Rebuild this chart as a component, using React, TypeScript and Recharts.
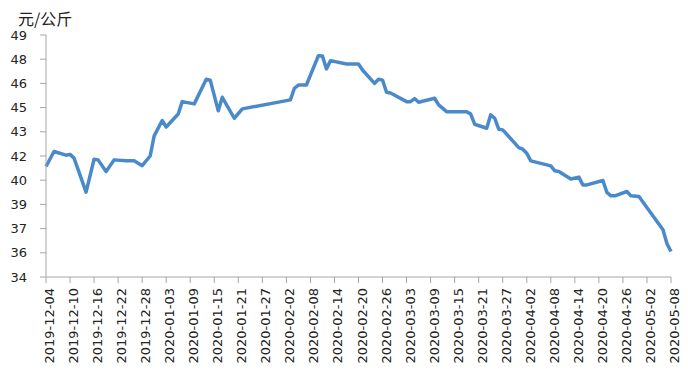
// 价格走势 — 元/公斤, 2019-12-04 ~ 2020-05-08
import { LineChart, Line, XAxis, YAxis } from 'recharts';

// 数据点 (日期, 价格)
const dates = [
  '2019-12-04', '2019-12-06', '2019-12-09', '2019-12-10', '2019-12-11', '2019-12-14',
  '2019-12-16', '2019-12-17', '2019-12-19', '2019-12-21', '2019-12-24', '2019-12-26',
  '2019-12-28', '2019-12-30', '2019-12-31', '2020-01-02', '2020-01-03', '2020-01-06',
  '2020-01-07', '2020-01-10', '2020-01-13', '2020-01-14', '2020-01-16', '2020-01-17',
  '2020-01-20', '2020-01-22', '2020-02-03', '2020-02-04', '2020-02-05', '2020-02-07',
  '2020-02-10', '2020-02-11', '2020-02-12', '2020-02-13', '2020-02-17', '2020-02-20',
  '2020-02-21', '2020-02-24', '2020-02-25', '2020-02-26', '2020-02-27', '2020-02-28',
  '2020-03-03', '2020-03-04', '2020-03-05', '2020-03-06', '2020-03-10', '2020-03-11',
  '2020-03-13', '2020-03-18', '2020-03-19', '2020-03-20', '2020-03-23', '2020-03-24',
  '2020-03-25', '2020-03-26', '2020-03-27', '2020-03-31', '2020-04-01', '2020-04-02',
  '2020-04-03', '2020-04-08', '2020-04-09', '2020-04-10', '2020-04-13', '2020-04-15',
  '2020-04-16', '2020-04-17', '2020-04-21', '2020-04-22', '2020-04-23', '2020-04-24',
  '2020-04-27', '2020-04-28', '2020-04-30', '2020-05-06', '2020-05-07', '2020-05-08',
];

const prices = [
  40.85, 41.78, 41.55, 41.6, 41.37, 39.26,
  41.3, 41.26, 40.54, 41.26, 41.2, 41.2,
  40.9, 41.5, 42.75, 43.7, 43.3, 44.1,
  44.87, 44.73, 46.26, 46.2, 44.3, 45.14,
  43.84, 44.42, 44.98, 45.7, 45.9, 45.9,
  47.72, 47.7, 46.9, 47.41, 47.2, 47.2,
  46.83, 46.0, 46.26, 46.2, 45.45, 45.4,
  44.87, 44.87, 45.06, 44.83, 45.08, 44.67,
  44.25, 44.25, 44.1, 43.47, 43.22, 44.05,
  43.84, 43.16, 43.12, 42.02, 41.92, 41.67,
  41.2, 40.89, 40.58, 40.54, 40.07, 40.19,
  39.71, 39.71, 39.98, 39.24, 39.03, 39.03,
  39.3, 39.03, 38.99, 36.93, 36.06, 35.58,
];

// x轴刻度 (每6天)
const xTickDates = [
  '2019-12-04', '2019-12-10', '2019-12-16', '2019-12-22', '2019-12-28', '2020-01-03',
  '2020-01-09', '2020-01-15', '2020-01-21', '2020-01-27', '2020-02-02', '2020-02-08',
  '2020-02-14', '2020-02-20', '2020-02-26', '2020-03-03', '2020-03-09', '2020-03-15',
  '2020-03-21', '2020-03-27', '2020-04-02', '2020-04-08', '2020-04-14', '2020-04-20',
  '2020-04-26', '2020-05-02', '2020-05-08',
];

// y轴刻度
const yTicks = [34, 35.5, 37, 38.5, 40, 41.5, 43, 44.5, 46, 47.5, 49];

const DAY = 86400000;
const START = Date.UTC(2019, 11, 4);
const toDay = (s: string) => {
  const [y, m, d] = s.split('-').map(Number);
  return Math.round((Date.UTC(y, m - 1, d) - START) / DAY);
};
const fromDay = (n: number) => new Date(START + n * DAY).toISOString().slice(0, 10);

const data = dates.map((d, i) => ({ day: toDay(d), price: prices[i] }));
const xTicks = xTickDates.map(toDay);

const AXIS_COLOR = '#a6a6a6';
const LINE_COLOR = '#4a8acb';
const FONT = '"DejaVu Sans", sans-serif';

// eslint-disable-next-line @typescript-eslint/no-explicit-any
function DateTick({ x, y, payload }: any) {
  return (
    <g transform={`translate(${x},${y})`}>
      <text
        transform="rotate(-90)"
        textAnchor="end"
        dy={8}
        fontSize={13}
        fontFamily={FONT}
        fill="#222"
      >
        {fromDay(payload.value)}
      </text>
    </g>
  );
}

export default function App() {
  return (
    <div
      style={{
        position: 'absolute',
        left: 0,
        top: 0,
        width: 688,
        height: 375,
        background: '#fff',
        fontFamily: FONT,
      }}
    >
      <div
        style={{
          position: 'absolute',
          left: 18,
          top: 10,
          fontSize: 16,
          lineHeight: '16px',
          color: '#222',
          fontFamily: '"Noto Sans CJK SC", sans-serif',
        }}
      >
        元/公斤
      </div>
      <LineChart
        width={688}
        height={375}
        data={data}
        margin={{ top: 35, right: 17, bottom: 0, left: 0 }}
      >
        <XAxis
          type="number"
          dataKey="day"
          domain={[0, 156]}
          ticks={xTicks}
          interval={0}
          height={98}
          stroke={AXIS_COLOR}
          tickSize={6}
          tickMargin={5}
          tick={<DateTick />}
        />
        <YAxis
          type="number"
          domain={[34, 49]}
          ticks={yTicks}
          interval={0}
          width={46}
          stroke={AXIS_COLOR}
          tickSize={6}
          tickMargin={13}
          tick={{ fill: '#222', fontSize: 13, fontFamily: FONT }}
          tickFormatter={(v: number) => `${Math.round(v)}`}
        />
        <Line
          type="linear"
          dataKey="price"
          stroke={LINE_COLOR}
          strokeWidth={3.5}
          dot={false}
          strokeLinejoin="round"
          isAnimationActive={false}
        />
      </LineChart>
    </div>
  );
}
